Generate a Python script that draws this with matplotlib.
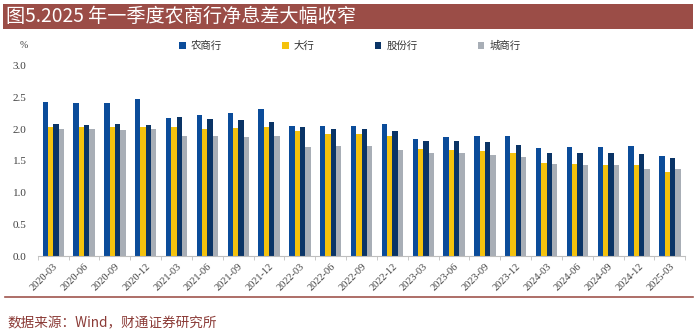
import matplotlib
matplotlib.use("Agg")
import matplotlib.pyplot as plt
import numpy as np
from matplotlib.patches import Rectangle
from matplotlib.lines import Line2D

quarters = ["2020-03", "2020-06", "2020-09", "2020-12", "2021-03", "2021-06", "2021-09",
            "2021-12", "2022-03", "2022-06", "2022-09", "2022-12", "2023-03", "2023-06",
            "2023-09", "2023-12", "2024-03", "2024-06", "2024-09", "2024-12", "2025-03"]
rural = [2.43, 2.41, 2.42, 2.48, 2.18, 2.23, 2.25, 2.32, 2.05, 2.05, 2.05, 2.09, 1.84, 1.88,
         1.89, 1.90, 1.71, 1.72, 1.72, 1.73, 1.58]
large = [2.04, 2.03, 2.04, 2.04, 2.03, 2.01, 2.02, 2.04, 1.97, 1.93, 1.92, 1.89, 1.69, 1.68,
         1.66, 1.62, 1.46, 1.45, 1.44, 1.44, 1.33]
joint = [2.08, 2.07, 2.08, 2.06, 2.20, 2.16, 2.15, 2.12, 2.03, 2.01, 2.01, 1.97, 1.82, 1.81,
         1.80, 1.75, 1.62, 1.63, 1.62, 1.61, 1.55]
city = [2.00, 2.00, 1.99, 2.00, 1.89, 1.90, 1.87, 1.90, 1.72, 1.73, 1.73, 1.67, 1.63, 1.63,
        1.60, 1.57, 1.45, 1.44, 1.44, 1.38, 1.37]
series_names = ["农商行", "大行", "股份行", "城商行"]
yticks = [0.0, 0.5, 1.0, 1.5, 2.0, 2.5, 3.0]

colors = ["#0B4C9A", "#F4C20D", "#0A3466", "#A8AEB6"]
serif = ["Liberation Serif", "DejaVu Serif"]
cjk = ["Noto Sans CJK SC", "DejaVu Sans"]

fig = plt.figure(figsize=(7.0, 3.36), dpi=100)
ax = fig.add_axes([0.054, 0.238, 0.925, 0.566])

x = np.arange(len(quarters))
w = 0.173
data = [rural, large, joint, city]
for i, (vals, c) in enumerate(zip(data, colors)):
    ax.bar(x + (i - 1.5) * w, vals, width=w, color=c, linewidth=0)

ax.set_xlim(-0.5, len(quarters) - 0.5)
ax.set_ylim(0, 3.0)
ax.set_yticks(yticks)
ax.set_yticklabels([f"{v:.1f}" for v in yticks], fontfamily=serif, fontsize=8, color="#404040")
ax.set_xticks(x)
ax.set_xticklabels(quarters, rotation=45, ha="right", rotation_mode="anchor",
                   fontfamily=serif, fontsize=7.5, color="#404040")
ax.set_xticks(np.arange(-0.5, len(quarters)), minor=True)
ax.tick_params(axis="x", which="major", length=0, pad=4)
ax.tick_params(axis="x", which="minor", length=3, color="#BFBFBF")
ax.tick_params(axis="y", length=0, pad=8)
for s in ["top", "right", "left"]:
    ax.spines[s].set_visible(False)
ax.spines["bottom"].set_color("#BFBFBF")
ax.spines["bottom"].set_linewidth(0.8)

# title banner
fig.patches.append(Rectangle((3 / 700, 1 - 29 / 336), 690 / 700, 25 / 336,
                             transform=fig.transFigure, facecolor="#9B4D47",
                             edgecolor="none"))
fig.text(6 / 700, 1 - 16.5 / 336, "图5.2025 年一季度农商行净息差大幅收窄", color="white",
         fontsize=13.8, va="center", ha="left", family=cjk)

# percent label
fig.text(20 / 700, 1 - 46 / 336, "%", fontsize=7, color="#404040", va="center",
         family=serif)

# legend
handles = [Rectangle((0, 0), 1, 1, facecolor=c, edgecolor="none") for c in colors]
leg = fig.legend(handles, series_names, loc="center", bbox_to_anchor=(0.50, 1 - 46 / 336),
                 ncol=4, frameon=False, prop={"family": cjk, "size": 7.5},
                 handlelength=0.6, handleheight=0.6, handletextpad=0.5,
                 columnspacing=5.8)
for t in leg.get_texts():
    t.set_color("#333333")

# bottom rule and source
fig.lines.append(Line2D([5 / 700, 693 / 700], [1 - 297 / 336, 1 - 297 / 336],
                        transform=fig.transFigure, color="#A0554E", linewidth=1.2))
fig.text(7 / 700, 1 - 323 / 336, "数据来源：Wind，财通证券研究所", fontsize=9.8,
         color="#8B3A36", va="center", ha="left", family=cjk)

fig.savefig("out.png", dpi=100)
